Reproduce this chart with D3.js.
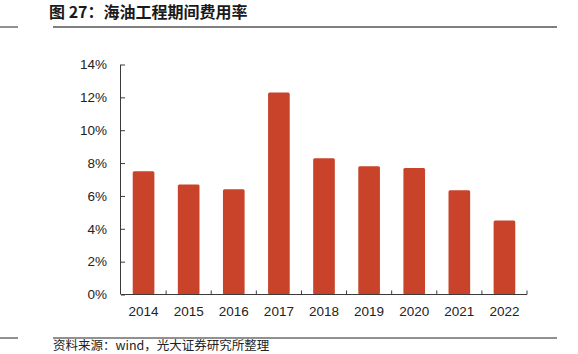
<!DOCTYPE html>
<html>
<head>
<meta charset="utf-8">
<script src="https://cdn.jsdelivr.net/npm/d3@7"></script>
<style>
  body { margin: 0; background: #fff; }
  svg { display: block; }
</style>
</head>
<body>
<div id="chart"></div>
<script>
// data
const years = ["2014", "2015", "2016", "2017", "2018", "2019", "2020", "2021", "2022"];
const expenseRate = [7.5, 6.7, 6.4, 12.3, 8.3, 7.8, 7.7, 6.35, 4.5];
const yTicks = [0, 2, 4, 6, 8, 10, 12, 14];

const titleText = "图 27：海油工程期间费用率";
const sourceText = "资料来源：wind，光大证券研究所整理";

const W = 578, H = 354;
const cjk = "'Noto Sans CJK SC', 'Noto Sans', sans-serif";
const latin = "'Liberation Sans', Arial, sans-serif";

const svg = d3.select("#chart").append("svg")
    .attr("width", W)
    .attr("height", H);

// title + rules
svg.append("text")
    .attr("x", 49)
    .attr("y", 18)
    .style("font-family", cjk)
    .style("font-weight", "bold")
    .style("font-size", "16px")
    .style("fill", "#1a1a1a")
    .text(titleText);

svg.append("line").attr("x1", 0).attr("x2", 18).attr("y1", 27).attr("y2", 27)
    .style("stroke", "#555").style("stroke-width", 1.3);
svg.append("line").attr("x1", 53).attr("x2", 557).attr("y1", 27).attr("y2", 27)
    .style("stroke", "#555").style("stroke-width", 1.3);

svg.append("line").attr("x1", 0).attr("x2", 18).attr("y1", 338).attr("y2", 338)
    .style("stroke", "#222").style("stroke-width", 1);
svg.append("line").attr("x1", 53).attr("x2", 557).attr("y1", 338).attr("y2", 338)
    .style("stroke", "#222").style("stroke-width", 1);

svg.append("text")
    .attr("x", 53)
    .attr("y", 350)
    .style("font-family", cjk)
    .style("font-size", "12.5px")
    .style("fill", "#222")
    .text(sourceText);

// scales
const xScale = d3.scaleBand()
    .domain(years)
    .range([121, 527])
    .padding(0);

const yScale = d3.scaleLinear()
    .domain([0, 14])
    .range([294.5, 64.5]);

const barW = xScale.bandwidth() * 0.48;

// bars
svg.selectAll(".bar")
    .data(years.map((y, i) => ({ year: y, value: expenseRate[i] })))
    .enter()
    .append("rect")
    .attr("class", "bar")
    .attr("x", d => xScale(d.year) + (xScale.bandwidth() - barW) / 2)
    .attr("y", d => yScale(d.value))
    .attr("width", barW)
    .attr("height", d => yScale(0) - yScale(d.value))
    .attr("rx", 1.5)
    .style("fill", "#C8432A");

// y axis (ticks point inward)
const yAxis = d3.axisLeft(yScale)
    .tickValues(yTicks)
    .tickSize(-4)
    .tickPadding(14)
    .tickFormat(d => d + "%");

const gy = svg.append("g")
    .attr("class", "y-axis")
    .attr("transform", "translate(121,0)")
    .call(yAxis);

gy.select(".domain").attr("d", `M-0.5,${yScale(14)}V${yScale(0)}`);

// x axis with ticks at band boundaries pointing up
const gx = svg.append("g")
    .attr("class", "x-axis")
    .attr("transform", `translate(0,${yScale(0)})`)
    .call(d3.axisBottom(xScale).tickSize(0).tickPadding(12));

gx.select(".domain").attr("d", "M121,0H527");

const bounds = years.map(y => xScale(y)).concat([527]);
gx.selectAll(".bound")
    .data(bounds.slice(1))
    .enter()
    .append("line")
    .attr("class", "bound")
    .attr("x1", d => d)
    .attr("x2", d => d)
    .attr("y1", 0)
    .attr("y2", -4);

svg.selectAll(".domain, .tick line, .bound")
    .style("stroke", "#3a3a3a")
    .style("stroke-width", 1);

svg.selectAll(".tick text")
    .style("font-family", latin)
    .style("font-size", "13.5px")
    .style("fill", "#222");
</script>
</body>
</html>
